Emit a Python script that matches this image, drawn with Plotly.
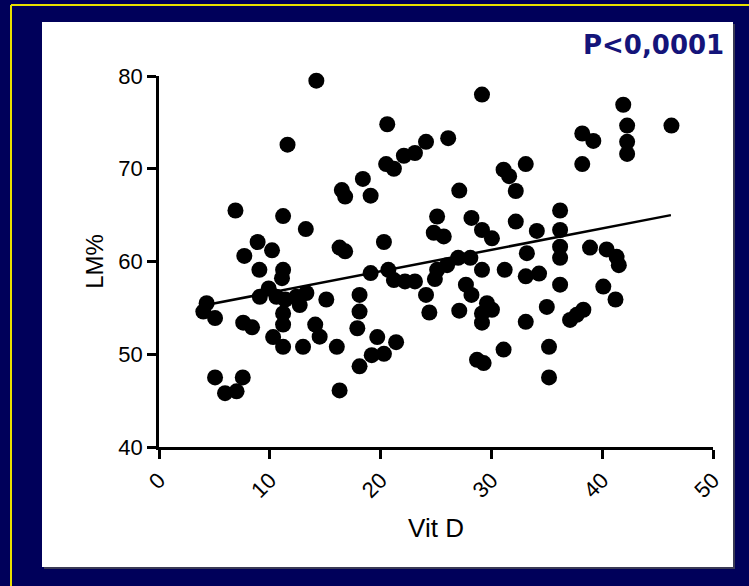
import plotly.graph_objects as go

# Data
vit_d = [14.2, 11.6, 16.5, 16.8, 6.9, 11.2, 13.25, 8.9, 10.2, 7.7, 16.3, 16.8,
         29.15, 20.6, 26.1, 24.1, 23.1, 22.1, 20.5, 21.2, 18.4, 19.1, 27.1,
         31.1, 31.6, 32.2, 33.1, 25.1, 28.2, 32.2, 24.8, 25.7, 29.15, 30.05, 20.3,
         41.9, 46.25, 42.25, 42.25, 42.25, 38.2, 39.2, 38.2, 36.2, 36.2, 34.1,
         36.2, 38.9, 40.4, 41.3, 33.2,
         9.06, 11.2, 11.1, 9.9, 9.1, 10.6, 11.4, 12.4, 13.3, 12.7, 11.2, 11.2,
         15.1, 4.3, 4.0, 5.06, 7.6, 8.4, 10.3, 11.2, 13.0, 14.1, 14.5, 16.05,
         5.06, 7.56, 5.96, 7.0, 16.3,
         19.1, 20.7, 21.2, 22.2, 23.1, 25.1, 24.9, 26.0, 27.0, 28.1, 29.15,
         31.2, 33.1, 18.1, 18.1, 17.9, 24.1, 24.4, 27.7, 28.2, 27.1,
         29.6, 29.15, 30.05, 29.15, 33.1, 19.7, 21.4, 19.2, 20.3, 18.1,
         31.1, 28.7, 29.3,
         34.3, 36.2, 36.2, 41.5, 40.1, 41.2, 35.0, 37.1, 37.7, 38.3, 35.2, 35.2]
lm_pct = [79.5, 72.6, 67.7, 67.0, 65.5, 64.9, 63.5, 62.1, 61.2, 60.6, 61.5, 61.1,
          78.0, 74.8, 73.3, 72.9, 71.7, 71.4, 70.5, 70.0, 68.9, 67.1, 67.65,
          69.9, 69.2, 67.6, 70.5, 64.85, 64.7, 64.3, 63.1, 62.7, 63.4, 62.5, 62.1,
          76.9, 74.65, 74.65, 72.9, 71.6, 73.8, 73.0, 70.5, 65.5, 63.4, 63.3,
          61.6, 61.5, 61.3, 60.5, 60.9,
          59.1, 59.1, 58.2, 57.1, 56.2, 56.2, 55.9, 56.2, 56.6, 55.3, 54.4, 53.2,
          55.9, 55.5, 54.6, 53.9, 53.4, 52.9, 51.85, 50.8, 50.8, 53.2, 51.9, 50.8,
          47.5, 47.5, 45.8, 46.0, 46.1,
          58.75, 59.1, 58.0, 57.85, 57.85, 59.1, 58.1, 59.6, 60.4, 60.4, 59.1,
          59.1, 58.4, 56.4, 54.6, 52.8, 56.4, 54.5, 57.5, 56.4, 54.7,
          55.5, 54.4, 54.8, 53.4, 53.5, 51.85, 51.3, 49.9, 50.05, 48.7,
          50.5, 49.4, 49.05,
          58.7, 60.4, 57.5, 59.6, 57.3, 55.9, 55.1, 53.7, 54.25, 54.8, 50.8, 47.5]

fit_x = [4.0, 46.2]
fit_y = [55.25, 65.0]

x_ticks = [0, 10, 20, 30, 40, 50]
y_ticks = [40, 50, 60, 70, 80]

W, H = 749, 586
L, R, T, B = 159, 36, 76, 139
pw, ph = W - L - R, H - T - B

def px(x):
    return (x - L) / pw

def py(y):
    return (H - B - y) / ph

fig = go.Figure()
fig.add_trace(go.Scatter(x=vit_d, y=lm_pct, mode="markers",
                         marker=dict(size=16, color="black"),
                         cliponaxis=False, showlegend=False, hoverinfo="skip"))
fig.add_trace(go.Scatter(x=fit_x, y=fit_y, mode="lines",
                         line=dict(color="black", width=2.5),
                         cliponaxis=False, showlegend=False, hoverinfo="skip"))

shapes = [
    # yellow frame (top and left edges visible)
    dict(type="line", xref="paper", yref="paper", x0=px(11), x1=px(749), y0=py(5), y1=py(5),
         line=dict(color="#e8e000", width=2), layer="below"),
    dict(type="line", xref="paper", yref="paper", x0=px(11), x1=px(11), y0=py(5), y1=py(586),
         line=dict(color="#e8e000", width=2), layer="below"),
    # shadow
    dict(type="rect", xref="paper", yref="paper", x0=px(44), x1=px(735), y0=py(24), y1=py(569),
         line=dict(width=0), fillcolor="#3a3a55", layer="below"),
    # white panel
    dict(type="rect", xref="paper", yref="paper", x0=px(42), x1=px(733), y0=py(22), y1=py(567),
         line=dict(width=0), fillcolor="white", layer="below"),
]

fig.update_layout(
    width=W, height=H,
    margin=dict(l=L, r=R, t=T, b=B),
    paper_bgcolor="#00005a",
    plot_bgcolor="rgba(0,0,0,0)",
    shapes=shapes,
    font=dict(family="Liberation Sans, Arial, sans-serif", color="black"),
    annotations=[dict(text="<b>P&lt;0,0001</b>", xref="paper", yref="paper",
                      x=px(726), y=py(45), xanchor="right", yanchor="middle",
                      showarrow=False,
                      font=dict(family="DejaVu Sans, sans-serif", size=26, color="#14147a"))],
)
fig.update_xaxes(range=[0, 50], tickvals=x_ticks, ticktext=[str(v) for v in x_ticks],
                 tickangle=-45, ticks="outside", ticklen=9, tickwidth=2.5, tickcolor="black",
                 showline=True, linecolor="black", linewidth=2.5, showgrid=False, zeroline=False,
                 tickfont=dict(size=22, color="black"),
                 title=dict(text="Vit D", font=dict(size=26, color="black"), standoff=18))
fig.update_yaxes(range=[40, 80], tickvals=y_ticks, ticktext=[str(v) for v in y_ticks],
                 ticks="outside", ticklen=9, tickwidth=2.5, tickcolor="black",
                 showline=True, linecolor="black", linewidth=2.5, showgrid=False, zeroline=False,
                 tickfont=dict(size=22, color="black"),
                 title=dict(text="LM%", font=dict(size=24, color="black"), standoff=8))

fig.write_html("out.html", config={"displayModeBar": False},
               post_script="document.body.style.margin='0';document.body.style.background='#00005a';")
